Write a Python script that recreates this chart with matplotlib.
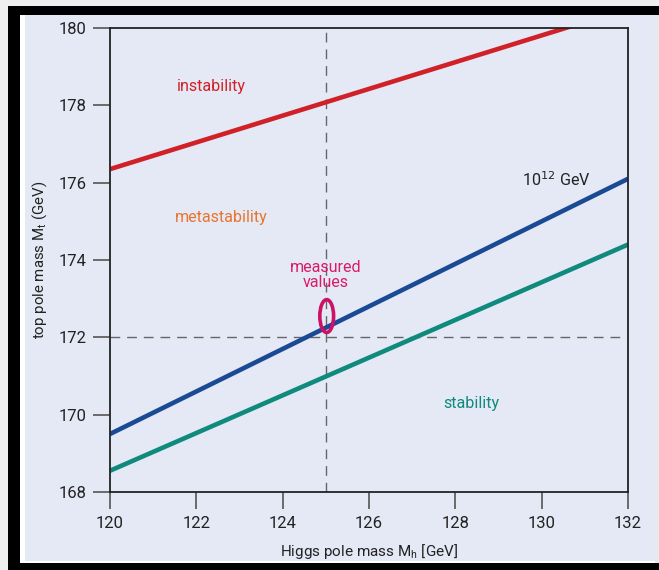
import matplotlib
matplotlib.use("Agg")
import matplotlib.pyplot as plt
from matplotlib.patches import Rectangle, Ellipse

plt.rcParams['font.family'] = ['Roboto', 'DejaVu Sans']

# Data
higgs_range = [120, 132]
instability_line = [176.35, 180.5]   # Mt at Mh=120, 132
scale_1e12_line = [169.5, 176.1]
stability_line = [168.55, 174.4]
mh_measured = 125
mt_measured = 172
ellipse_center = (125.02, 172.55)
ellipse_size = (0.32, 0.85)
xticks = [120, 122, 124, 126, 128, 130, 132]
yticks = [168, 170, 172, 174, 176, 178, 180]

fig = plt.figure(figsize=(6.59, 5.70), dpi=100)
fig.patch.set_facecolor('#efefef')
W, H = 659, 570
def frect(x0, y0, x1, y1, color, z):
    fig.patches.append(Rectangle((x0 / W, 1 - y1 / H), (x1 - x0) / W, (y1 - y0) / H,
                                 transform=fig.transFigure, facecolor=color,
                                 edgecolor='none', zorder=z))
frect(8, 6, 659, 570, 'black', -4)
frect(655, 15, 659, 563, '#e9e9e9', -3)
frect(20, 15, 655, 563, 'white', -2)
frect(25, 15, 655, 561, '#e5e9f6', -1)

ax = fig.add_axes([110 / W, 1 - 492 / H, (628 - 110) / W, (492 - 28) / H])
ax.set_facecolor('#e5e9f6')
ax.set_xlim(120, 132)
ax.set_ylim(168, 180)

ax.plot(higgs_range, instability_line, color='#d12128', lw=3.3, solid_capstyle='butt')
ax.plot(higgs_range, scale_1e12_line, color='#1b4a95', lw=3.3, solid_capstyle='butt')
ax.plot(higgs_range, stability_line, color='#0f8a7d', lw=3.3, solid_capstyle='butt')

ax.axvline(mh_measured, color='#666666', lw=1.0, dashes=(7, 5), zorder=1)
ax.axhline(mt_measured, color='#666666', lw=1.0, dashes=(7, 5), zorder=1)

ax.add_patch(Ellipse(ellipse_center, ellipse_size[0], ellipse_size[1], fill=False,
                     edgecolor='#cc1166', lw=2.6, zorder=5))

fs = 11.6
ax.text(122.34, 178.5, 'instability', color='#d12128', fontsize=fs, ha='center', va='center')
ax.text(122.57, 175.09, 'metastability', color='#e8742e', fontsize=fs, ha='center', va='center')
ax.text(130.35, 176.07, r'10$^{12}$ GeV', color='#222222', fontsize=fs, ha='center', va='center')
ax.text(125.0, 173.61, 'measured\nvalues', color='#d81b6a', fontsize=fs, ha='center', va='center',
        linespacing=1.0)
ax.text(128.38, 170.3, 'stability', color='#0f8a7d', fontsize=fs, ha='center', va='center')

ax.set_xticks(xticks)
ax.set_yticks(yticks)
ax.tick_params(direction='out', length=12, width=1.2, color='#555555',
               labelsize=12, labelcolor='#222222', pad=5)
for s in ax.spines.values():
    s.set_color('#222222')
    s.set_linewidth(1.3)

ax.set_xlabel(r'Higgs pole mass M$_\mathregular{h}$ [GeV]', fontsize=11, color='#222222', labelpad=8)
ax.set_ylabel(r'top pole mass M$_\mathregular{t}$ (GeV)', fontsize=10.8, color='#222222', labelpad=7)

fig.savefig('out.png', dpi=100, facecolor=fig.get_facecolor())
